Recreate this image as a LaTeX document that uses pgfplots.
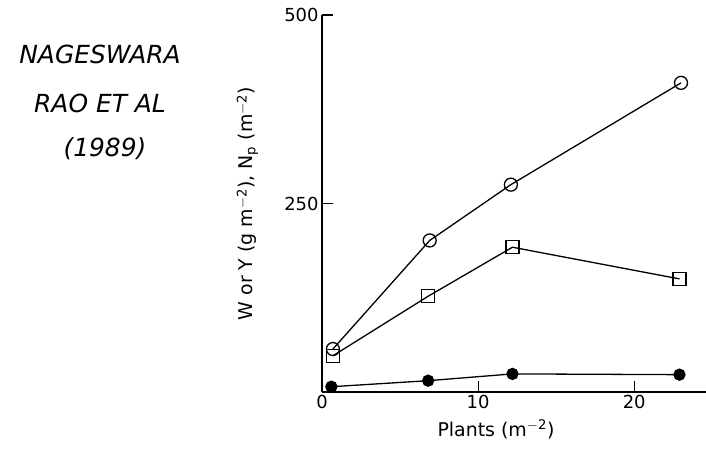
\documentclass[border=0pt]{standalone}
\usepackage{pgfplots}
\pgfplotsset{compat=1.18}
\usepackage{fontspec}
\setmainfont{DejaVu Sans}
\begin{document}
\begin{tikzpicture}
\path[use as bounding box] (0,0) rectangle (706bp,452bp);
\begin{axis}[
  at={(322bp,60bp)}, anchor=south west,
  scale only axis, width=384bp, height=377bp,
  xmin=0, xmax=24.6, ymin=0, ymax=500,
  enlargelimits=false, clip=false,
  axis lines=left,
  axis line style={-, line width=1.4bp, black},
  tick align=inside, major tick length=11bp,
  tick style={line width=1.2bp, black},
  xtick={0,10,20}, ytick={250,500},
  /pgf/number format/assume math mode=true,
  tick label style={font=\fontsize{18}{20}\selectfont},
  xlabel={Plants (m\textsuperscript{$-$2})},
  ylabel={W or Y (g m\textsuperscript{$-$2}), N\textsubscript{p} (m\textsuperscript{$-$2})},
  every axis x label/.style={at={(axis description cs:0.453,-0.065)}, anchor=north, font=\fontsize{19}{22}\selectfont},
  every axis y label/.style={at={(axis description cs:-0.157,0.5)}, rotate=90, anchor=south, font=\fontsize{19}{22}\selectfont},
]
\addplot[black, line width=1.3bp, mark=o, mark size=6.5bp, mark options={fill=white, line width=1.3bp}]
  coordinates {(0.7,57) (6.9,201) (12.1,275) (23,410)};
\addplot[black, line width=1.3bp, mark=square, mark size=6.5bp, mark options={fill=white, line width=1.3bp}]
  coordinates {(0.7,48) (6.8,127) (12.2,192) (22.9,150)};
\addplot[black, line width=1.3bp, mark=*, mark size=5.5bp, mark options={fill=black}]
  coordinates {(0.6,7) (6.8,15) (12.2,24) (22.9,23)};
\end{axis}
\node[inner sep=1bp, font=\fontsize{25}{28}\selectfont\itshape] at (100bp,398bp) {NAGESWARA};
\node[inner sep=1bp, font=\fontsize{25}{28}\selectfont\itshape] at (100bp,349bp) {RAO ET AL};
\node[inner sep=1bp, font=\fontsize{25}{28}\selectfont\itshape] at (105bp,303bp) {(1989)};
\end{tikzpicture}
\end{document}
